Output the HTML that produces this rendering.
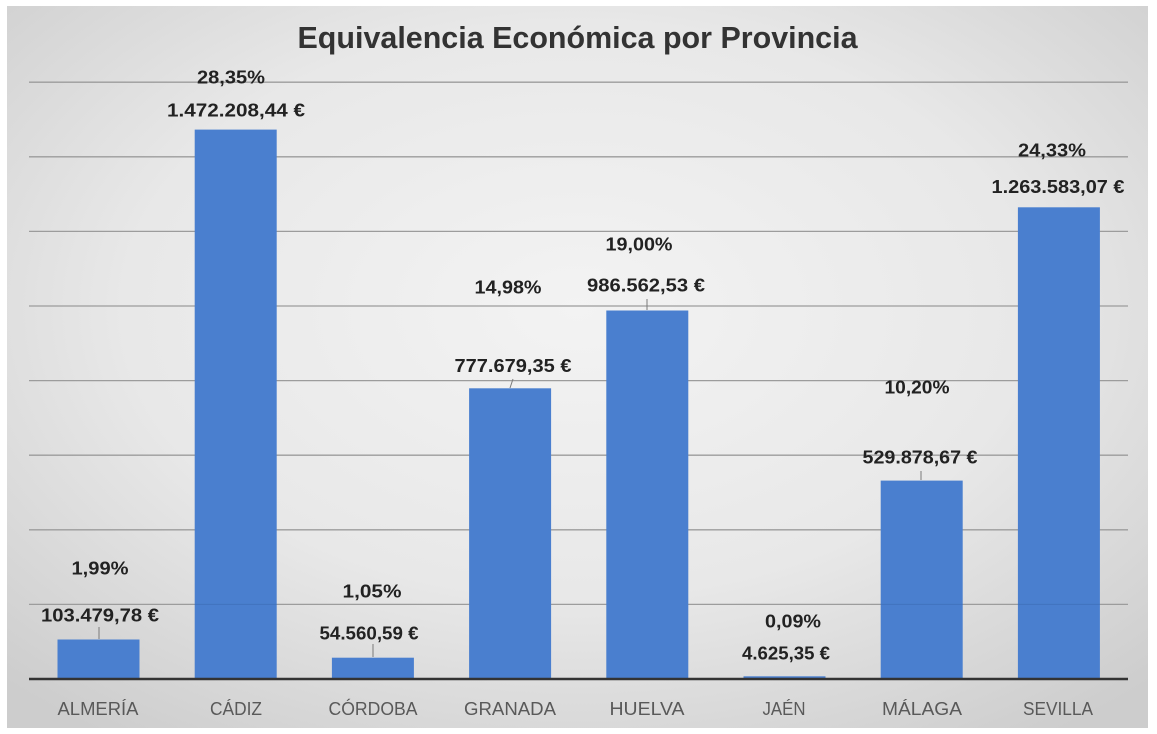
<!DOCTYPE html>
<html>
<head>
<meta charset="utf-8">
<style>
  html, body { margin: 0; padding: 0; background: #ffffff; }
  body { width: 1157px; height: 734px; overflow: hidden; }
  svg { display: block; }
  .pct, .val { font-family: "Liberation Sans", "DejaVu Sans", sans-serif; font-weight: bold; font-size: 18px; fill: #222222; }
  .cat { font-family: "Liberation Sans", "DejaVu Sans", sans-serif; font-size: 18px; fill: #595959; }
  .title { font-family: "Liberation Sans", "DejaVu Sans", sans-serif; font-weight: bold; font-size: 31px; fill: #333333; }
</style>
</head>
<body>
<svg width="1157" height="734" viewBox="0 0 1157 734" xmlns="http://www.w3.org/2000/svg">
  <defs>
    <radialGradient id="bg" cx="50%" cy="42%" r="72%">
      <stop offset="0" stop-color="#f3f3f3"/>
      <stop offset="0.55" stop-color="#e8e8e8"/>
      <stop offset="1" stop-color="#cdcdcd"/>
    </radialGradient>
  </defs>
  <rect x="0" y="0" width="1157" height="734" fill="#ffffff"/>
  <rect x="7" y="6" width="1141" height="722" fill="url(#bg)"/>

  <!-- title -->
  <text class="title" x="577.5" y="48" text-anchor="middle" textLength="560" lengthAdjust="spacingAndGlyphs">Equivalencia Económica por Provincia</text>

  <!-- gridlines -->
  <g stroke="#9c9c9c" stroke-width="1.3">
    <line x1="29" x2="1128" y1="604.4" y2="604.4"/>
    <line x1="29" x2="1128" y1="529.8" y2="529.8"/>
    <line x1="29" x2="1128" y1="455.2" y2="455.2"/>
    <line x1="29" x2="1128" y1="380.6" y2="380.6"/>
    <line x1="29" x2="1128" y1="306" y2="306"/>
    <line x1="29" x2="1128" y1="231.4" y2="231.4"/>
    <line x1="29" x2="1128" y1="156.8" y2="156.8"/>
    <line x1="29" x2="1128" y1="82.2" y2="82.2"/>
  </g>

  <!-- bars -->
  <g fill="#4a7fcf">
    <rect x="57.5" y="639.5" width="82" height="39.5"/>
    <rect x="194.7" y="129.6" width="82" height="549.4"/>
    <rect x="331.9" y="657.7" width="82" height="21.3"/>
    <rect x="469.1" y="388.3" width="82" height="290.7"/>
    <rect x="606.3" y="310.5" width="82" height="368.5"/>
    <rect x="743.5" y="676.3" width="82" height="2.7"/>
    <rect x="880.7" y="480.6" width="82" height="198.4"/>
    <rect x="1017.9" y="207.3" width="82" height="471.7"/>
  </g>

  <!-- faint gridlines over bars -->
  <g stroke="#2a4f8a" stroke-width="1" opacity="0.25">
    <line x1="194.7" x2="276.7" y1="604.4" y2="604.4"/>
    <line x1="880.7" x2="962.7" y1="604.4" y2="604.4"/>
    <line x1="1017.9" x2="1099.9" y1="604.4" y2="604.4"/>
  </g>

  <!-- axis -->
  <line x1="29" x2="1128" y1="679" y2="679" stroke="#333333" stroke-width="2.6"/>

  <!-- leader lines -->
  <g stroke="#7a7a7a" stroke-width="1">
    <line x1="99" y1="627" x2="99" y2="639"/>
    <line x1="373" y1="644" x2="373" y2="657"/>
    <line x1="513" y1="379" x2="510" y2="388"/>
    <line x1="647" y1="299" x2="647" y2="310"/>
    <line x1="921" y1="471" x2="921" y2="480"/>
  </g>

  <!-- percent labels -->
  <text class="pct" x="100" y="574.5" text-anchor="middle" textLength="57" lengthAdjust="spacingAndGlyphs">1,99%</text>
  <text class="pct" x="231" y="83.5" text-anchor="middle" textLength="68" lengthAdjust="spacingAndGlyphs">28,35%</text>
  <text class="pct" x="372" y="597.5" text-anchor="middle" textLength="59" lengthAdjust="spacingAndGlyphs">1,05%</text>
  <text class="pct" x="508" y="293.5" text-anchor="middle" textLength="67" lengthAdjust="spacingAndGlyphs">14,98%</text>
  <text class="pct" x="639" y="250.5" text-anchor="middle" textLength="67" lengthAdjust="spacingAndGlyphs">19,00%</text>
  <text class="pct" x="793" y="627.5" text-anchor="middle" textLength="56" lengthAdjust="spacingAndGlyphs">0,09%</text>
  <text class="pct" x="917" y="393.5" text-anchor="middle" textLength="65" lengthAdjust="spacingAndGlyphs">10,20%</text>
  <text class="pct" x="1052" y="156.5" text-anchor="middle" textLength="68" lengthAdjust="spacingAndGlyphs">24,33%</text>

  <!-- value labels -->
  <text class="val" x="100" y="621.5" text-anchor="middle" textLength="118" lengthAdjust="spacingAndGlyphs">103.479,78 €</text>
  <text class="val" x="236" y="116.5" text-anchor="middle" textLength="138" lengthAdjust="spacingAndGlyphs">1.472.208,44 €</text>
  <text class="val" x="369" y="639.5" text-anchor="middle" textLength="99" lengthAdjust="spacingAndGlyphs">54.560,59 €</text>
  <text class="val" x="513" y="372" text-anchor="middle" textLength="117" lengthAdjust="spacingAndGlyphs">777.679,35 €</text>
  <text class="val" x="646" y="291.5" text-anchor="middle" textLength="118" lengthAdjust="spacingAndGlyphs">986.562,53 €</text>
  <text class="val" x="786" y="659.5" text-anchor="middle" textLength="88" lengthAdjust="spacingAndGlyphs">4.625,35 €</text>
  <text class="val" x="920" y="463.5" text-anchor="middle" textLength="115" lengthAdjust="spacingAndGlyphs">529.878,67 €</text>
  <text class="val" x="1058" y="193" text-anchor="middle" textLength="133" lengthAdjust="spacingAndGlyphs">1.263.583,07 €</text>

  <!-- category labels -->
  <text class="cat" x="98" y="715" text-anchor="middle" textLength="81" lengthAdjust="spacingAndGlyphs">ALMERÍA</text>
  <text class="cat" x="236" y="715" text-anchor="middle" textLength="52" lengthAdjust="spacingAndGlyphs">CÁDIZ</text>
  <text class="cat" x="373" y="715" text-anchor="middle" textLength="89" lengthAdjust="spacingAndGlyphs">CÓRDOBA</text>
  <text class="cat" x="510" y="715" text-anchor="middle" textLength="92" lengthAdjust="spacingAndGlyphs">GRANADA</text>
  <text class="cat" x="647" y="715" text-anchor="middle" textLength="75" lengthAdjust="spacingAndGlyphs">HUELVA</text>
  <text class="cat" x="784" y="715" text-anchor="middle" textLength="43" lengthAdjust="spacingAndGlyphs">JAÉN</text>
  <text class="cat" x="922" y="715" text-anchor="middle" textLength="80" lengthAdjust="spacingAndGlyphs">MÁLAGA</text>
  <text class="cat" x="1058" y="715" text-anchor="middle" textLength="70" lengthAdjust="spacingAndGlyphs">SEVILLA</text>
</svg>
</body>
</html>
